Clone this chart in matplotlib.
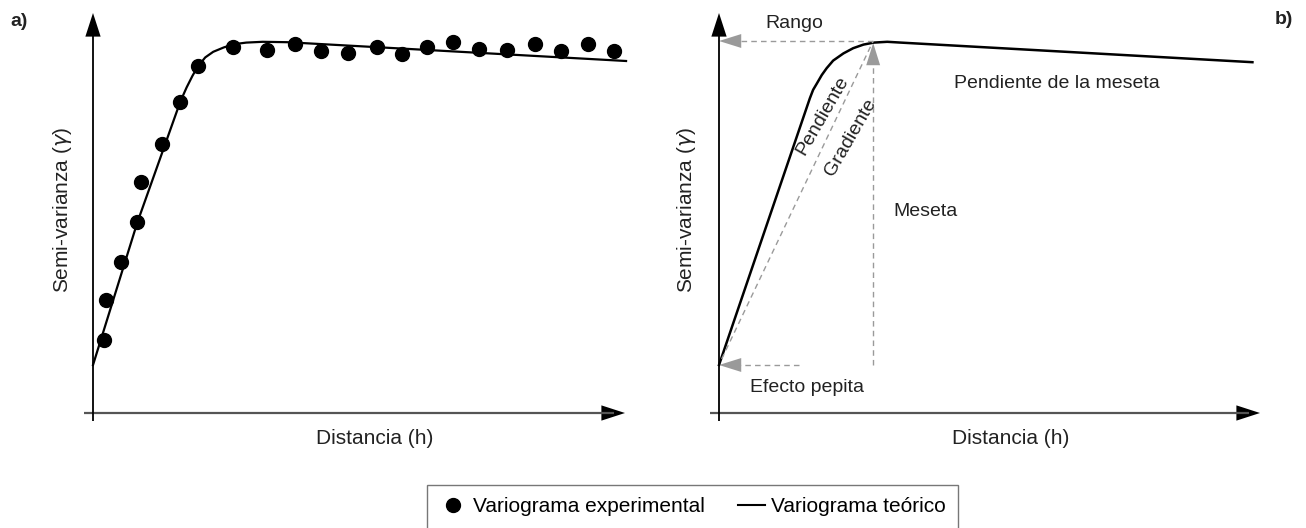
import matplotlib
matplotlib.use("Agg")
import matplotlib.pyplot as plt
from matplotlib.patches import FancyArrowPatch, ArrowStyle
from matplotlib.lines import Line2D

plt.rcParams['font.family'] = ['Liberation Sans', 'DejaVu Sans']

# panel a: experimental variogram (distance, semivariance)
exp_h = [0.20, 0.24, 0.53, 0.82, 0.91, 1.30, 1.64, 1.97, 2.63, 3.27, 3.79, 4.29,
         4.79, 5.33, 5.81, 6.27, 6.77, 7.26, 7.78, 8.31, 8.80, 9.30, 9.79]
exp_g = [1.83, 2.83, 3.77, 4.77, 5.78, 6.73, 7.78, 8.68, 9.14, 9.08, 9.22, 9.05,
         9.01, 9.14, 8.98, 9.14, 9.28, 9.09, 9.08, 9.22, 9.06, 9.22, 9.05]

# panel a: theoretical model
teo_a_h = [0.0, 0.83, 1.64, 1.76, 1.87, 1.97, 2.11, 2.26, 2.46, 2.65, 2.88, 3.19, 3.65, 10.02]
teo_a_g = [1.20, 4.75, 7.78, 8.14, 8.43, 8.66, 8.89, 9.03, 9.14, 9.22, 9.26, 9.28, 9.27, 8.80]

# panel b: schematic model
teo_b_h = [0.0, 1.68, 1.74, 1.81, 1.90, 1.99, 2.11, 2.30, 2.48, 2.67, 2.86, 3.11, 3.36, 9.86]
teo_b_g = [1.20, 7.87, 8.08, 8.24, 8.45, 8.62, 8.81, 8.99, 9.12, 9.21, 9.26, 9.28, 9.26, 8.77]

pepita = 1.20     # nugget
meseta = 9.30     # sill
rango = 2.85      # range
pepita_end = 1.48

W, H = 1306, 528
fig = plt.figure(figsize=(W / 100, H / 100), dpi=100)

def px_axes(x0, x1, y0, y1):
    # axes placed by pixel box (top-left origin)
    return fig.add_axes([x0 / W, 1 - y1 / H, (x1 - x0) / W, (y1 - y0) / H])

ax_a = px_axes(93, 625, 13, 413)
ax_b = px_axes(719, 1260, 13, 413)

GRAY = '#9a9a9a'

def head(ax, tip, frm, color, hl=16, hw=5):
    ax.add_patch(FancyArrowPatch(frm, tip, arrowstyle=ArrowStyle('-|>', head_length=hl, head_width=hw),
                                 mutation_scale=1, color=color, lw=0, clip_on=False, shrinkA=0, shrinkB=0))

def draw_axes(ax):
    ax.set_xlim(0, 10)
    ax.set_ylim(0, 10)
    ax.axis('off')
    ax.plot([-0.16, 9.8], [0, 0], color='#555555', lw=1.6, clip_on=False, solid_capstyle='butt')
    ax.plot([0, 0], [-0.2, 9.8], color='black', lw=1.3, clip_on=False, solid_capstyle='butt')
    head(ax, (10, 0), (9.5, 0), 'black', hl=17, hw=5.5)
    head(ax, (0, 10), (0, 9.4), 'black', hl=17, hw=5.5)

draw_axes(ax_a)
draw_axes(ax_b)

# panel a
ax_a.plot(teo_a_h, teo_a_g, color='black', lw=1.6, clip_on=False, solid_joinstyle='round')
ax_a.plot(exp_h, exp_g, 'o', color='black', ms=10, clip_on=False)

# panel b
ax_b.plot(teo_b_h, teo_b_g, color='black', lw=1.8, clip_on=False, solid_joinstyle='round')
dash = dict(color=GRAY, lw=1.0, ls=(0, (4, 3)))
ax_b.plot([rango, 0.3], [meseta, meseta], **dash)
ax_b.plot([rango, rango], [pepita, meseta - 0.5], **dash)
ax_b.plot([0.05, rango], [pepita + 0.15, meseta], **dash)
ax_b.plot([pepita_end, 0.3], [pepita, pepita], **dash)
head(ax_b, (0, meseta), (0.5, meseta), GRAY)
head(ax_b, (rango, meseta - 0.05), (rango, meseta - 0.7), GRAY)
head(ax_b, (0, pepita), (0.5, pepita), GRAY)

fs_ann = 14
ax_b.text(1.39, 9.73, 'Rango', fontsize=fs_ann, ha='center', va='center', color='#222222')
ax_b.text(6.25, 8.23, 'Pendiente de la meseta', fontsize=fs_ann, ha='center', va='center', color='#222222')
ax_b.text(3.81, 5.03, 'Meseta', fontsize=fs_ann, ha='center', va='center', color='#222222')
ax_b.text(1.63, 0.63, 'Efecto pepita', fontsize=fs_ann, ha='center', va='center', color='#222222')
ax_b.text(1.92, 7.43, 'Pendiente', fontsize=fs_ann, ha='center', va='center', rotation=60,
          rotation_mode='anchor', color='#222222')
ax_b.text(2.44, 6.88, 'Gradiente', fontsize=fs_ann, ha='center', va='center', rotation=60,
          rotation_mode='anchor', color='#222222')

# labels in pixel positions
def ftext(x, y, s, **kw):
    fig.text(x / W, 1 - y / H, s, ha='center', va='center', color='#222222', **kw)

ftext(19, 22, 'a)', fontsize=14, fontweight='bold')
ftext(1284, 20, 'b)', fontsize=14, fontweight='bold')
ftext(63, 210, r'Semi-varianza ($\gamma$)', fontsize=15, rotation=90)
ftext(687, 210, r'Semi-varianza ($\gamma$)', fontsize=15, rotation=90)
ftext(375, 438, 'Distancia (h)', fontsize=15)
ftext(1011, 438, 'Distancia (h)', fontsize=15)

handles = [Line2D([], [], marker='o', ls='none', color='black', ms=10),
           Line2D([], [], color='black', lw=1.5)]
leg = fig.legend(handles, ['Variograma experimental', 'Variograma teórico'], ncol=2,
                 loc='center', bbox_to_anchor=(692.5 / W, 1 - 507 / H), fontsize=15,
                 frameon=True, fancybox=False, handlelength=1.3, handletextpad=0.3,
                 columnspacing=1.6, borderpad=0.6, borderaxespad=0)
leg.get_frame().set_edgecolor('#555555')
leg.get_frame().set_linewidth(1.0)

fig.savefig('out.png', dpi=100)
